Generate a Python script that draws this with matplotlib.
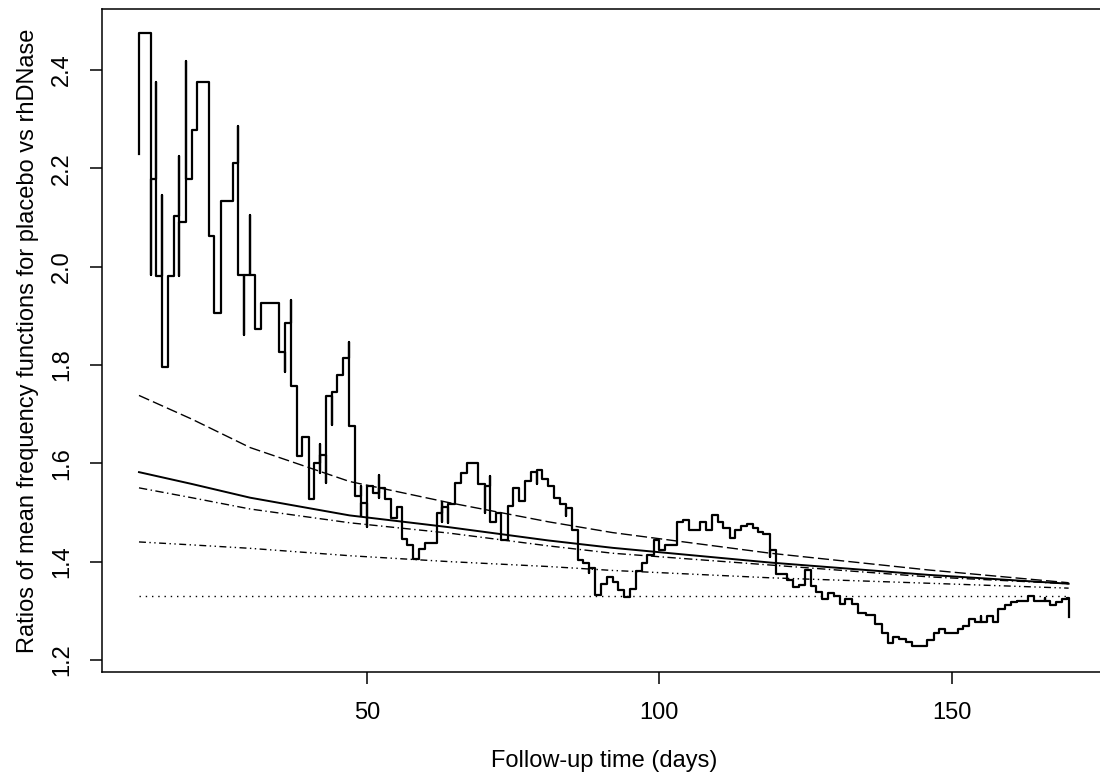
import matplotlib
matplotlib.use("Agg")
import matplotlib.pyplot as plt

plt.rcParams['font.family'] = ['Liberation Sans', 'DejaVu Sans']

# ratio step function (placebo / rhDNase); repeated times are momentary jumps
step_t = [
    11.0, 11.0, 13.0, 13.0, 13.9, 13.9, 14.9, 14.9, 15.9, 17.0,
    17.9, 17.9, 17.9, 19.0, 19.0, 20.0, 21.0, 22.9, 23.9, 25.0,
    27.0, 28.0, 28.0, 29.0, 29.0, 30.0, 30.0, 30.8, 31.9, 34.9,
    36.0, 36.0, 37.0, 37.0, 38.0, 38.9, 40.0, 40.9, 42.0, 42.0,
    42.0, 42.9, 42.9, 44.0, 44.0, 44.9, 45.9, 47.0, 47.0, 48.0,
    49.0, 49.0, 49.0, 50.0, 50.0, 51.1, 52.1, 52.1, 52.1, 53.1,
    54.1, 55.1, 55.9, 56.9, 57.9, 58.9, 59.9, 61.9, 62.9, 62.9,
    62.9, 63.9, 63.9, 65.1, 66.0, 67.1, 69.0, 70.1, 70.1, 71.0,
    71.0, 72.0, 73.0, 74.1, 75.0, 76.0, 77.0, 78.0, 79.0, 79.0,
    80.0, 81.0, 82.0, 83.0, 84.0, 84.0, 85.0, 86.0, 87.0, 88.0,
    88.0, 89.0, 90.0, 91.0, 92.0, 93.0, 94.0, 95.0, 96.0, 97.0,
    97.9, 99.0, 100.0, 101.0, 103.1, 104.0, 105.0, 107.0, 108.0, 109.0,
    110.0, 110.9, 112.0, 112.9, 113.9, 115.0, 116.0, 116.9, 117.8, 118.9,
    118.9, 120.0, 121.9, 122.9, 123.9, 124.9, 125.9, 126.8, 127.8, 128.9,
    129.9, 130.9, 131.8, 132.9, 134.0, 135.3, 136.9, 138.0, 139.1, 140.0,
    141.0, 142.1, 143.2, 145.7, 146.9, 147.8, 148.9, 151.0, 152.0, 153.0,
    154.0, 155.0, 155.0, 156.0, 157.0, 158.0, 159.1, 160.1, 161.1, 163.1,
    164.0, 166.0, 166.0, 166.8, 167.8, 168.8, 169.7, 170.1,
]
step_v = [
    2.229, 2.476, 1.983, 2.178, 2.376, 1.981, 2.146, 1.795, 1.980, 2.104,
    2.226, 1.980, 2.090, 2.418, 2.178, 2.278, 2.376, 2.062, 1.905, 2.134,
    2.210, 2.286, 1.983, 1.861, 1.983, 2.105, 1.983, 1.873, 1.927, 1.826,
    1.786, 1.885, 1.932, 1.758, 1.614, 1.653, 1.527, 1.601, 1.639, 1.581,
    1.617, 1.559, 1.737, 1.678, 1.746, 1.780, 1.814, 1.847, 1.675, 1.534,
    1.554, 1.492, 1.519, 1.471, 1.554, 1.539, 1.576, 1.529, 1.549, 1.527,
    1.488, 1.512, 1.446, 1.434, 1.405, 1.425, 1.437, 1.498, 1.522, 1.480,
    1.512, 1.478, 1.517, 1.559, 1.580, 1.600, 1.558, 1.498, 1.553, 1.575,
    1.480, 1.498, 1.444, 1.513, 1.549, 1.523, 1.564, 1.582, 1.557, 1.587,
    1.568, 1.553, 1.530, 1.517, 1.493, 1.509, 1.465, 1.403, 1.397, 1.376,
    1.386, 1.332, 1.355, 1.368, 1.359, 1.343, 1.329, 1.344, 1.380, 1.397,
    1.414, 1.443, 1.423, 1.434, 1.481, 1.485, 1.465, 1.481, 1.465, 1.495,
    1.481, 1.468, 1.448, 1.465, 1.473, 1.476, 1.468, 1.461, 1.457, 1.409,
    1.424, 1.375, 1.362, 1.349, 1.352, 1.383, 1.350, 1.338, 1.323, 1.336,
    1.330, 1.313, 1.323, 1.313, 1.296, 1.291, 1.273, 1.254, 1.235, 1.247,
    1.243, 1.237, 1.229, 1.240, 1.254, 1.262, 1.254, 1.262, 1.270, 1.284,
    1.277, 1.290, 1.277, 1.289, 1.278, 1.304, 1.311, 1.317, 1.320, 1.330,
    1.320, 1.326, 1.320, 1.311, 1.317, 1.323, 1.325, 1.288,
]
assert len(step_t) == len(step_v)

# model-based ratio curves, read at these follow-up times
curve_t = [11, 20, 30, 47, 64, 81, 92, 119, 146, 170]
ratio_dashed = [1.738, 1.690, 1.632, 1.563, 1.520, 1.481, 1.459, 1.417, 1.383, 1.357]
ratio_solid = [1.582, 1.558, 1.530, 1.494, 1.470, 1.443, 1.428, 1.398, 1.373, 1.355]
ratio_dashdot = [1.550, 1.530, 1.507, 1.479, 1.458, 1.432, 1.417, 1.393, 1.369, 1.355]
ratio_dashdotdot = [1.440, 1.434, 1.427, 1.412, 1.400, 1.390, 1.382, 1.367, 1.356, 1.346]

# constant ratio (dotted)
const_t = [11, 170]
const_ratio = [1.330, 1.330]

fig = plt.figure(figsize=(11, 7.72), dpi=100)
ax = fig.add_axes([0.0925, 0.1299, 0.9128, 0.8584])

ax.plot(step_t, step_v, drawstyle='steps-post', color='black', lw=1.6)
ax.plot(curve_t, ratio_solid, color='black', lw=1.4)
ax.plot(curve_t, ratio_dashed, color='black', lw=1.0, dashes=(8, 3))
ax.plot(curve_t, ratio_dashdot, color='black', lw=1.0, dashes=(6, 2.5, 1, 2.5))
ax.plot(curve_t, ratio_dashdotdot, color='black', lw=1.0, dashes=(5, 2.5, 1, 2.5, 1, 2.5))
ax.plot(const_t, const_ratio, color='black', lw=1.0, dashes=(1, 3.5))

ax.set_xlim(4.63, 176.36)
ax.set_ylim(1.176, 2.524)
ax.set_xticks([50, 100, 150])
ax.set_yticks([1.2, 1.4, 1.6, 1.8, 2.0, 2.2, 2.4])
ax.set_yticklabels(['1.2', '1.4', '1.6', '1.8', '2.0', '2.2', '2.4'],
                   rotation=90, va='center')

for sp in ax.spines.values():
    sp.set_linewidth(1.1)
ax.tick_params(direction='out', length=8.6, width=1.1, labelsize=17)
ax.tick_params(axis='x', pad=13)
ax.tick_params(axis='y', pad=12)

ax.set_xlabel("Follow-up time (days)", fontsize=17, labelpad=19)
ax.set_ylabel("Ratios of mean frequency functions for placebo vs rhDNase",
              fontsize=17, labelpad=9)

fig.savefig("out.png", dpi=100)
